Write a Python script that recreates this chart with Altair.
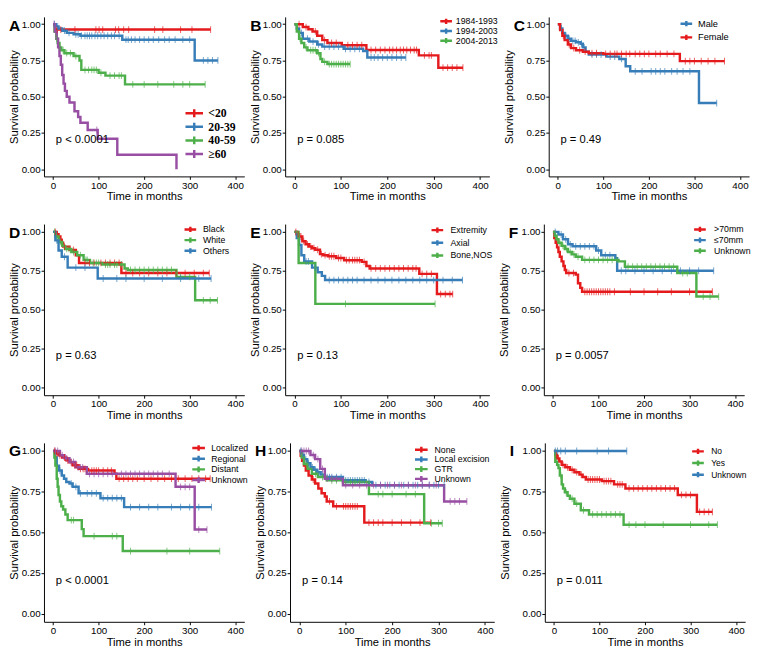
import altair as alt
import pandas as pd

RED, BLUE, GREEN, PURPLE = "#E41A1C", "#377EB8", "#4DAF4A", "#984EA3"
TICKS_X = [0, 100, 200, 300, 400]
TICKS_Y = [0, 0.25, 0.5, 0.75, 1.0]
FONT = "Liberation Sans"

# ---------------- Panel A : age ----------------
A_groups = ["<20", "20-39", "40-59", "≥60"]
A_colors = [RED, BLUE, GREEN, PURPLE]
A_times = [[0, 5],
           [0, 6, 12, 20, 30, 45, 60, 152, 311],
           [0, 3, 7, 10, 14, 18, 25, 45, 58, 62, 100, 115, 158],
           [0, 4, 8, 11, 14, 17, 20, 23, 26, 30, 36, 47, 55, 60, 76, 98, 141, 271]]
A_surv = [[1.0, 0.963],
          [1.0, 0.985, 0.97, 0.955, 0.94, 0.93, 0.92, 0.893, 0.75],
          [1.0, 0.95, 0.90, 0.87, 0.84, 0.82, 0.80, 0.78, 0.75, 0.685, 0.665, 0.645, 0.585],
          [1.0, 0.95, 0.90, 0.84, 0.78, 0.72, 0.65, 0.59, 0.54, 0.50, 0.46, 0.40, 0.36, 0.32, 0.27, 0.21, 0.10, 0.0]]
A_end = [346, 362, 334, 271]
A_cens = [[9, 17, 48, 94, 101, 109, 137, 144, 155, 166, 223, 241, 280, 305, 346],
          [3, 10, 25, 35, 50, 55, 62, 70, 75, 80, 85, 92, 98, 105, 112, 120, 128, 135, 145, 160, 165, 172,
           180, 190, 200, 210, 220, 232, 245, 255, 268, 285, 300, 330, 340, 350, 362],
          [8, 15, 22, 30, 38, 50, 70, 78, 85, 90, 95, 105, 125, 135, 145, 150, 175, 200, 230, 265, 285, 300, 334],
          [2, 96]]

# ---------------- Panel B : year of diagnosis ----------------
B_groups = ["1984-1993", "1994-2003", "2004-2013"]
B_colors = [RED, BLUE, GREEN]
B_times = [[0, 18, 30, 39, 49, 60, 71, 102, 155, 268, 310],
           [0, 5, 10, 18, 32, 49, 60, 106, 148, 157],
           [0, 5, 10, 15, 21, 28, 49, 56, 60, 71]]
B_surv = [[1.0, 0.98, 0.965, 0.95, 0.92, 0.89, 0.87, 0.855, 0.822, 0.785, 0.70],
          [1.0, 0.97, 0.94, 0.90, 0.88, 0.86, 0.845, 0.83, 0.815, 0.77],
          [1.0, 0.95, 0.90, 0.87, 0.84, 0.82, 0.80, 0.76, 0.74, 0.725]]
B_end = [363, 240, 120]
B_cens = [[10, 25, 45, 65, 80, 90, 115, 125, 135, 145, 165, 175, 185, 195, 205, 212, 220, 228, 235, 242,
           250, 258, 263, 280, 290, 295, 320, 330, 340, 350, 363],
          [15, 28, 40, 52, 65, 75, 85, 95, 110, 120, 130, 140, 165, 172, 180, 190, 200, 210, 220, 230, 240],
          [12, 25, 35, 40, 45, 52, 65, 75, 80, 85, 90, 95, 100, 105, 110, 115, 120]]

# ---------------- Panel C : sex ----------------
C_groups = ["Male", "Female"]
C_colors = [BLUE, RED]
C_times = [[0, 5, 10, 15, 22, 29, 40, 50, 55, 61, 68, 107, 135, 149, 159, 310],
           [0, 5, 10, 15, 22, 29, 40, 55, 68, 100, 268]]
C_surv = [[1.0, 0.97, 0.94, 0.92, 0.90, 0.885, 0.875, 0.865, 0.84, 0.81, 0.79, 0.776, 0.76, 0.71, 0.675, 0.456],
          [1.0, 0.96, 0.92, 0.89, 0.86, 0.835, 0.82, 0.81, 0.80, 0.795, 0.745]]
C_end = [349, 366]
C_cens = [[8, 18, 25, 33, 38, 45, 52, 58, 75, 85, 95, 115, 125, 140, 170, 185, 205, 215, 225, 235, 250, 262,
           275, 290, 349],
          [12, 25, 35, 48, 60, 75, 85, 105, 115, 125, 130, 140, 150, 158, 170, 180, 190, 200, 215, 225, 240,
           255, 280, 290, 300, 315, 330, 345, 366]]

# ---------------- Panel D : race ----------------
D_groups = ["Black", "White", "Others"]
D_colors = [RED, GREEN, BLUE]
D_times = [[0, 8, 12, 16, 19, 22, 36, 50, 57, 150],
           [0, 5, 12, 20, 26, 40, 53, 67, 81, 108, 157, 164, 271, 312],
           [0, 5, 12, 19, 32, 98]]
D_surv = [[1.0, 0.985, 0.97, 0.95, 0.93, 0.905, 0.884, 0.85, 0.80, 0.735],
          [1.0, 0.97, 0.935, 0.91, 0.89, 0.87, 0.85, 0.82, 0.80, 0.79, 0.765, 0.755, 0.71, 0.56],
          [1.0, 0.945, 0.88, 0.84, 0.77, 0.70]]
D_end = [343, 361, 347]
D_cens = [[5, 25, 45, 70, 80, 90, 105, 115, 125, 135, 145, 160, 175, 190, 210, 230, 250, 270, 290, 310, 330, 343],
          [3, 8, 16, 30, 35, 45, 60, 72, 75, 88, 95, 100, 115, 120, 125, 135, 140, 150, 170, 180, 190, 200,
           210, 220, 230, 240, 250, 260, 280, 300, 330, 345, 361],
          [8, 25, 50, 70, 110, 140, 160, 200, 240, 280, 320, 347]]

# ---------------- Panel E : primary site ----------------
E_groups = ["Extremity", "Axial", "Bone,NOS"]
E_colors = [RED, BLUE, GREEN]
E_times = [[0, 5, 10, 17, 24, 31, 38, 45, 55, 62, 72, 90, 107, 145, 155, 162, 269, 307],
           [0, 5, 10, 15, 21, 38, 50, 59, 66],
           [0, 9, 45]]
E_surv = [[1.0, 0.985, 0.97, 0.94, 0.92, 0.906, 0.895, 0.885, 0.857, 0.85, 0.843, 0.832, 0.818, 0.807,
           0.78, 0.765, 0.73, 0.60],
          [1.0, 0.96, 0.916, 0.85, 0.81, 0.77, 0.74, 0.717, 0.69],
          [1.0, 0.80, 0.537]]
E_end = [341, 362, 303]
E_cens = [[3, 8, 14, 20, 28, 35, 42, 50, 58, 66, 75, 80, 85, 95, 100, 112, 118, 125, 130, 135, 140, 150, 165,
           175, 185, 195, 205, 215, 225, 235, 245, 255, 262, 275, 285, 295, 315, 325, 335, 341],
          [25, 30, 45, 75, 85, 95, 105, 115, 125, 135, 150, 165, 180, 195, 210, 225, 240, 255, 270, 285, 300,
           320, 340, 362],
          [110, 303]]

# ---------------- Panel F : tumor size ----------------
F_groups = [">70mm", "≤70mm", "Unknown"]
F_colors = [RED, BLUE, GREEN]
F_times = [[0, 3, 6, 9, 12, 15, 19, 23, 26, 29, 50, 55, 60, 64],
           [0, 12, 22, 33, 43, 95, 106, 137, 141],
           [0, 4, 8, 12, 19, 26, 33, 42, 50, 64, 144, 158, 273, 315]]
F_surv = [[1.0, 0.96, 0.93, 0.90, 0.87, 0.84, 0.81, 0.78, 0.755, 0.735, 0.725, 0.67, 0.64, 0.615],
          [1.0, 0.983, 0.952, 0.92, 0.907, 0.88, 0.85, 0.83, 0.75],
          [1.0, 0.975, 0.952, 0.93, 0.91, 0.89, 0.87, 0.855, 0.84, 0.82, 0.81, 0.776, 0.735, 0.584]]
F_end = [350, 353, 364]
F_cens = [[35, 45, 70, 75, 80, 85, 90, 95, 100, 105, 110, 115, 120, 125, 135, 170, 200, 230, 260, 300, 350],
          [5, 18, 28, 38, 50, 60, 70, 80, 90, 100, 115, 125, 150, 160, 180, 200, 220, 240, 260, 280, 300, 320, 353],
          [6, 15, 22, 30, 38, 46, 55, 70, 80, 90, 100, 110, 120, 130, 140, 165, 175, 185, 195, 205, 215, 225,
           235, 245, 255, 265, 285, 295, 330, 345, 364]]

# ---------------- Panel G : stage ----------------
G_groups = ["Localized", "Regional", "Distant", "Unknown"]
G_colors = [RED, BLUE, GREEN, PURPLE]
G_times = [[0, 5, 12, 20, 29, 36, 43, 56, 77, 135, 139],
           [0, 4, 8, 13, 19, 24, 29, 36, 43, 56, 104, 156],
           [0, 3, 5, 8, 10, 12, 15, 18, 22, 27, 32, 63, 67, 153],
           [0, 15, 25, 36, 49, 74, 269, 311]]
G_surv = [[1.0, 0.985, 0.974, 0.96, 0.943, 0.93, 0.913, 0.89, 0.88, 0.86, 0.83],
          [1.0, 0.96, 0.91, 0.88, 0.85, 0.83, 0.81, 0.80, 0.78, 0.74, 0.71, 0.655],
          [1.0, 0.96, 0.91, 0.83, 0.78, 0.73, 0.69, 0.66, 0.64, 0.61, 0.575, 0.52, 0.477, 0.385],
          [1.0, 0.974, 0.955, 0.933, 0.90, 0.86, 0.78, 0.517]]
G_end = [345, 348, 366, 338]
G_cens = [[3, 8, 15, 25, 32, 40, 48, 52, 60, 66, 70, 85, 90, 95, 100, 110, 120, 128, 145, 155, 165, 175, 185,
           200, 215, 230, 245, 260, 275, 290, 305, 320, 335, 345],
          [15, 40, 50, 60, 75, 85, 95, 110, 120, 130, 140, 150, 170, 190, 210, 230, 260, 280, 300, 320, 348],
          [40, 45, 90, 130, 140, 170, 250, 300, 366],
          [5, 10, 20, 30, 40, 45, 55, 60, 65, 80, 90, 100, 110, 120, 130, 150, 160, 170, 180, 190, 200, 210, 220,
           230, 240, 255, 280, 290, 300, 320, 338]]

# ---------------- Panel H : surgery ----------------
H_groups = ["None", "Local excision", "GTR", "Unknown"]
H_colors = [RED, BLUE, GREEN, PURPLE]
H_times = [[0, 3, 6, 10, 14, 20, 27, 34, 41, 48, 55, 59, 73, 140],
           [0, 5, 10, 17, 24, 31, 38, 46, 55, 94, 143, 157],
           [0, 5, 10, 18, 27, 40, 59, 94, 150, 269],
           [0, 24, 34, 45, 55, 94, 312]]
H_surv = [[1.0, 0.97, 0.94, 0.91, 0.88, 0.85, 0.825, 0.80, 0.77, 0.74, 0.72, 0.69, 0.66, 0.56],
          [1.0, 0.975, 0.95, 0.925, 0.90, 0.885, 0.87, 0.855, 0.84, 0.82, 0.81, 0.79],
          [1.0, 0.96, 0.92, 0.89, 0.86, 0.84, 0.82, 0.81, 0.735, 0.556],
          [1.0, 0.975, 0.95, 0.89, 0.83, 0.79, 0.69]]
H_end = [283, 312, 308, 361]
H_cens = [[30, 65, 80, 95, 100, 105, 110, 115, 120, 125, 150, 160, 170, 180, 200, 220, 240, 260, 283],
          [3, 8, 14, 20, 28, 35, 42, 50, 60, 65, 70, 80, 90, 100, 105, 110, 115, 120, 125, 130, 135, 140, 150,
           165, 175, 185, 195, 205, 215, 225, 235, 245, 255, 265, 280, 290, 300, 312],
          [15, 35, 50, 70, 80, 100, 110, 120, 130, 170, 180, 200, 230, 250, 285, 300, 308],
          [5, 10, 15, 20, 30, 40, 50, 60, 70, 80, 100, 115, 130, 145, 160, 175, 190, 205, 220, 235, 250, 265,
           280, 295, 325, 335, 345, 361]]

# ---------------- Panel I : chemotherapy ----------------
I_groups = ["No", "Yes", "Unknown"]
I_colors = [RED, GREEN, BLUE]
I_times = [[0, 3, 7, 12, 17, 25, 35, 45, 56, 63, 70, 105, 132, 157, 272, 314],
           [0, 3, 7, 10, 13, 17, 20, 24, 30, 35, 45, 59, 77, 153],
           [0]]
I_surv = [[1.0, 0.975, 0.954, 0.935, 0.915, 0.90, 0.885, 0.87, 0.855, 0.84, 0.825, 0.815, 0.795, 0.77, 0.73, 0.626],
          [1.0, 0.934, 0.915, 0.895, 0.85, 0.795, 0.77, 0.746, 0.725, 0.706, 0.676, 0.636, 0.61, 0.547],
          [1.0]]
I_end = [348, 359, 160]
I_cens = [[5, 10, 20, 30, 40, 50, 60, 75, 80, 85, 90, 95, 100, 110, 115, 120, 125, 140, 145, 150, 165, 175, 185,
           195, 205, 215, 225, 235, 245, 255, 265, 280, 290, 300, 320, 330, 340, 348],
          [15, 27, 40, 50, 65, 85, 95, 105, 115, 125, 135, 145, 165, 180, 200, 240, 300, 340, 359],
          [3, 8, 15, 25, 50, 95, 120, 160]]

P_VALUES = ["p < 0.0001", "p = 0.085", "p = 0.49", "p = 0.63", "p = 0.13", "p = 0.0057",
            "p < 0.0001", "p = 0.14", "p = 0.011"]
LETTERS = ["A", "B", "C", "D", "E", "F", "G", "H", "I"]

COL_W = [206, 210, 206]
ROW_H = [164, 176, 184]
COL_TPAD = [2, 2, 12]

# legend: x, y (relative to plot), symbol size, font, font size, weight, entry height, label offset
LEGENDS = [
    dict(x=144, y=92, size=324, font="Liberation Serif", fs=12, fw="bold", ch=14, lo=4),
    dict(x=158, y=0, size=144, font=FONT, fs=9, fw="normal", ch=9, lo=2.5),
    dict(x=134, y=0, size=144, font=FONT, fs=9.5, fw="normal", ch=14, lo=4.5),
    dict(x=143, y=0, size=144, font=FONT, fs=9, fw="normal", ch=11, lo=5.5),
    dict(x=149, y=0, size=144, font=FONT, fs=9, fw="normal", ch=12.5, lo=6),
    dict(x=153, y=0, size=144, font=FONT, fs=9, fw="normal", ch=11, lo=7),
    dict(x=151, y=0, size=169, font=FONT, fs=9, fw="normal", ch=10.5, lo=5),
    dict(x=127, y=2, size=169, font=FONT, fs=9, fw="normal", ch=10, lo=5.5),
    dict(x=150, y=3, size=144, font=FONT, fs=8.7, fw="normal", ch=11.5, lo=6),
]

PANELS = [
    (A_groups, A_colors, A_times, A_surv, A_end, A_cens),
    (B_groups, B_colors, B_times, B_surv, B_end, B_cens),
    (C_groups, C_colors, C_times, C_surv, C_end, C_cens),
    (D_groups, D_colors, D_times, D_surv, D_end, D_cens),
    (E_groups, E_colors, E_times, E_surv, E_end, E_cens),
    (F_groups, F_colors, F_times, F_surv, F_end, F_cens),
    (G_groups, G_colors, G_times, G_surv, G_end, G_cens),
    (H_groups, H_colors, H_times, H_surv, H_end, H_cens),
    (I_groups, I_colors, I_times, I_surv, I_end, I_cens),
]


def step_value(ts, ss, c):
    v = ss[0]
    for t, s in zip(ts, ss):
        if t <= c:
            v = s
    return v


def build_panel(k):
    groups, colors, times, survs, ends, cens = PANELS[k]
    row, col = divmod(k, 3)
    W, H = COL_W[col], ROW_H[row]
    leg = LEGENDS[k]
    line_rows, cens_rows = [], []
    for g, ts, ss, e, cs in zip(groups, times, survs, ends, cens):
        for t, s in zip(ts, ss):
            line_rows.append({"t": t, "s": s, "g": g})
        if e > ts[-1]:
            line_rows.append({"t": e, "s": ss[-1], "g": g})
        for c in cs:
            cens_rows.append({"t": c, "s": step_value(ts, ss, c), "g": g})
    line_df = pd.DataFrame(line_rows)
    cens_df = pd.DataFrame(cens_rows)

    x_enc = alt.X("t:Q", scale=alt.Scale(domain=[-20, 420], nice=False, zero=False),
                  axis=alt.Axis(values=TICKS_X, title="Time in months"))
    y_enc = alt.Y("s:Q", scale=alt.Scale(domain=[-0.05, 1.05], nice=False, zero=False),
                  axis=alt.Axis(values=TICKS_Y, format=".2f", title="Survival probability",
                                titlePadding=COL_TPAD[col]))
    cscale = alt.Scale(domain=groups, range=colors)
    legend = alt.Legend(orient="none", legendX=leg["x"], legendY=leg["y"], title=None,
                        symbolType="M-1,0H1M0,-0.45V0.45", symbolSize=leg["size"],
                        symbolStrokeWidth=2.5, labelFont=leg["font"], labelFontSize=leg["fs"],
                        labelFontWeight=leg["fw"], labelColor="black", rowPadding=0,
                        clipHeight=leg["ch"], labelOffset=leg["lo"], padding=0)

    lines = alt.Chart(line_df).mark_line(interpolate="step-after", strokeWidth=2.5).encode(
        x=x_enc, y=y_enc, color=alt.Color("g:N", scale=cscale, legend=legend))
    ticks = alt.Chart(cens_df).mark_tick(orient="vertical", size=7, thickness=1).encode(
        x="t:Q", y="s:Q", color=alt.Color("g:N", scale=cscale, legend=None))
    ptext = alt.Chart(pd.DataFrame({"t": [6], "s": [0.2], "label": [P_VALUES[k]]})).mark_text(
        align="left", baseline="middle", fontSize=11.5, font=FONT, color="black").encode(
        x="t:Q", y="s:Q", text="label:N")
    letter = alt.Chart(pd.DataFrame({"label": [LETTERS[k]]})).mark_text(
        align="left", baseline="alphabetic", fontSize=16, fontWeight="bold", font=FONT,
        color="black").encode(x=alt.value(-36), y=alt.value(14), text="label:N")
    return alt.layer(lines, ticks, ptext, letter).properties(width=W, height=H)


rows = []
for r in range(3):
    rows.append(alt.hconcat(*[build_panel(3 * r + c) for c in range(3)], spacing=5)
                .resolve_scale(color="independent").resolve_legend(color="independent"))

chart = (alt.vconcat(*rows, spacing=22)
         .resolve_scale(color="independent").resolve_legend(color="independent")
         .properties(padding={"left": 0, "top": 0, "right": 0, "bottom": 0})
         .configure_view(stroke=None)
         .configure_axis(grid=False, domainColor="black", domainWidth=1, tickColor="black", tickSize=3,
                         labelColor="black", labelFont=FONT, labelFontSize=10, labelPadding=1,
                         titleFont=FONT, titleFontSize=11.5, titleFontWeight="normal", titleColor="black",
                         titlePadding=1)
         .configure_text(font=FONT))

chart.save("out.html", embed_options={"renderer": "svg", "actions": False})
